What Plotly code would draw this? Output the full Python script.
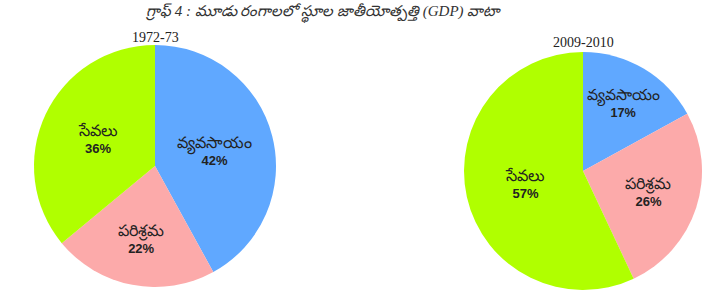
import plotly.graph_objects as go

title_text = "గ్రాఫ్ 4 : మూడు రంగాలలో స్థూల జాతీయోత్పత్తి (GDP) వాటా"
sectors = ["వ్యవసాయం", "పరిశ్రమ", "సేవలు"]
years = ["1972-73", "2009-2010"]
share_1972 = [42, 22, 36]
share_2009 = [17, 26, 57]
colors = ["#60a8ff", "#fcaaaa", "#b0ff00"]

W, H = 713, 293

def px(x):
    return x / W

def py(y):
    return 1 - y / H

def dom(cx, cy, r):
    return dict(x=[px(cx - r), px(cx + r)], y=[py(cy + r), py(cy - r)])

fig = go.Figure()
for vals, d in [(share_1972, dom(155, 166, 121)), (share_2009, dom(583, 171, 119))]:
    fig.add_trace(go.Pie(
        labels=sectors, values=vals, sort=False, direction="clockwise", rotation=0,
        marker=dict(colors=colors, line=dict(width=0)),
        texttemplate="<span style='font-size:16px'>%{label}</span><br><span style='font-family:Liberation Sans'><b>%{percent:.0%}</b></span>",
        textposition="inside", insidetextorientation="horizontal",
        textfont=dict(size=13, color="#222222", family="Liberation Serif"),
        hoverinfo="label+percent", showlegend=False, domain=d,
    ))

fig.add_annotation(text=f"<i>{title_text}</i>", x=px(323), y=py(13), xref="paper", yref="paper",
                   xanchor="center", yanchor="middle",
                   showarrow=False, font=dict(size=15, color="#333333", family="Liberation Serif"))
fig.add_annotation(text=years[0], x=px(155), y=py(38), xref="paper", yref="paper",
                   xanchor="center", yanchor="middle",
                   showarrow=False, font=dict(size=14, color="#222222", family="Liberation Serif"))
fig.add_annotation(text=years[1], x=px(583), y=py(43), xref="paper", yref="paper",
                   xanchor="center", yanchor="middle",
                   showarrow=False, font=dict(size=14, color="#222222", family="Liberation Serif"))

fig.update_layout(width=W, height=H, margin=dict(l=0, r=0, t=0, b=0),
                  paper_bgcolor="white", plot_bgcolor="white")
fig.write_html("out.html", config={"displayModeBar": False},
               post_script="document.body.style.margin='0';document.body.style.overflow='hidden';")
